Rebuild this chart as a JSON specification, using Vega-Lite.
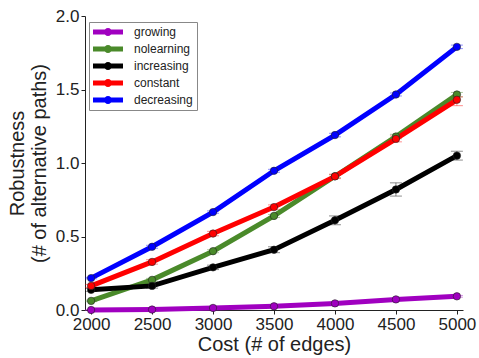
{
  "$schema": "https://vega.github.io/schema/vega-lite/v6.json",
  "width": 378,
  "height": 294,
  "autosize": "none",
  "padding": {"left": 85, "top": 16, "right": 16, "bottom": 48},
  "background": "white",
  "config": {
    "font": "Liberation Sans",
    "view": {"stroke": null},
    "axis": {"grid": false, "domainColor": "#222", "tickColor": "#222", "labelColor": "#222", "titleColor": "#222", "labelFontSize": 17, "titleFontSize": 20, "titleFontWeight": "normal", "tickSize": 4, "labelPadding": 2}
  },
  "data": {"values": [
    {"s":"growing","cost":2000,"r":0.0,"lo":-0.002,"hi":0.002},
    {"s":"growing","cost":2500,"r":0.003,"lo":0.001,"hi":0.005},
    {"s":"growing","cost":3000,"r":0.014,"lo":0.011,"hi":0.017},
    {"s":"growing","cost":3500,"r":0.025,"lo":0.021,"hi":0.029},
    {"s":"growing","cost":4000,"r":0.045,"lo":0.04,"hi":0.05},
    {"s":"growing","cost":4500,"r":0.072,"lo":0.067,"hi":0.077},
    {"s":"growing","cost":5000,"r":0.093,"lo":0.087,"hi":0.099},
    {"s":"nolearning","cost":2000,"r":0.062,"lo":0.057,"hi":0.067},
    {"s":"nolearning","cost":2500,"r":0.205,"lo":0.195,"hi":0.215},
    {"s":"nolearning","cost":3000,"r":0.4,"lo":0.39,"hi":0.41},
    {"s":"nolearning","cost":3500,"r":0.64,"lo":0.63,"hi":0.65},
    {"s":"nolearning","cost":4000,"r":0.91,"lo":0.9,"hi":0.92},
    {"s":"nolearning","cost":4500,"r":1.18,"lo":1.165,"hi":1.195},
    {"s":"nolearning","cost":5000,"r":1.466,"lo":1.45,"hi":1.48},
    {"s":"increasing","cost":2000,"r":0.137,"lo":0.127,"hi":0.147},
    {"s":"increasing","cost":2500,"r":0.164,"lo":0.149,"hi":0.179},
    {"s":"increasing","cost":3000,"r":0.29,"lo":0.275,"hi":0.305},
    {"s":"increasing","cost":3500,"r":0.41,"lo":0.39,"hi":0.43},
    {"s":"increasing","cost":4000,"r":0.61,"lo":0.58,"hi":0.64},
    {"s":"increasing","cost":4500,"r":0.82,"lo":0.775,"hi":0.865},
    {"s":"increasing","cost":5000,"r":1.05,"lo":1.02,"hi":1.08},
    {"s":"constant","cost":2000,"r":0.164,"lo":0.154,"hi":0.174},
    {"s":"constant","cost":2500,"r":0.327,"lo":0.312,"hi":0.342},
    {"s":"constant","cost":3000,"r":0.52,"lo":0.505,"hi":0.535},
    {"s":"constant","cost":3500,"r":0.7,"lo":0.685,"hi":0.715},
    {"s":"constant","cost":4000,"r":0.909,"lo":0.894,"hi":0.924},
    {"s":"constant","cost":4500,"r":1.164,"lo":1.144,"hi":1.184},
    {"s":"constant","cost":5000,"r":1.43,"lo":1.39,"hi":1.45},
    {"s":"decreasing","cost":2000,"r":0.217,"lo":0.212,"hi":0.222},
    {"s":"decreasing","cost":2500,"r":0.43,"lo":0.42,"hi":0.44},
    {"s":"decreasing","cost":3000,"r":0.666,"lo":0.658,"hi":0.674},
    {"s":"decreasing","cost":3500,"r":0.947,"lo":0.937,"hi":0.957},
    {"s":"decreasing","cost":4000,"r":1.19,"lo":1.178,"hi":1.202},
    {"s":"decreasing","cost":4500,"r":1.466,"lo":1.456,"hi":1.476},
    {"s":"decreasing","cost":5000,"r":1.79,"lo":1.778,"hi":1.802}
  ]},
  "encoding": {
    "x": {"field": "cost", "type": "quantitative", "title": "Cost (# of edges)",
          "scale": {"domain": [1950, 5050], "nice": false, "zero": false},
          "axis": {"values": [2000, 2500, 3000, 3500, 4000, 4500, 5000], "format": "d", "titlePadding": 2}},
    "color": {"field": "s", "type": "nominal",
              "scale": {"domain": ["growing", "nolearning", "increasing", "constant", "decreasing"],
                        "range": ["#a000c0", "#4a8a2a", "#000000", "#ff0000", "#0000ff"]},
              "legend": {"title": null, "orient": "none", "legendX": 4, "legendY": 6,
                         "padding": 4, "strokeColor": "#888", "fillColor": "white",
                         "labelFontSize": 12, "labelColor": "#222", "rowPadding": 5,
                         "symbolType": "M-3,-0.5 H3 V0.5 H-3 Z M-0.8,0 A0.8,0.8 0 1,1 0.8,0 A0.8,0.8 0 1,1 -0.8,0 Z",
                         "symbolSize": 100, "symbolOffset": 9, "symbolStrokeWidth": 0, "symbolOpacity": 1, "labelOffset": 20}}
  },
  "layer": [
    {
      "mark": {"type": "errorbar", "ticks": {"size": 12}, "opacity": 0.45},
      "encoding": {
        "y": {"field": "lo", "type": "quantitative", "title": ["Robustness", "(# of alternative paths)"]},
        "y2": {"field": "hi"}
      }
    },
    {
      "mark": {"type": "line", "strokeWidth": 5, "point": {"filled": true, "size": 55, "stroke": "#222", "strokeWidth": 0.6}},
      "encoding": {
        "y": {"field": "r", "type": "quantitative", "title": ["Robustness", "(# of alternative paths)"],
              "scale": {"domain": [0, 2], "nice": false},
              "axis": {"values": [0, 0.5, 1, 1.5, 2], "format": ".1f", "titlePadding": 6}}
      }
    }
  ]
}
